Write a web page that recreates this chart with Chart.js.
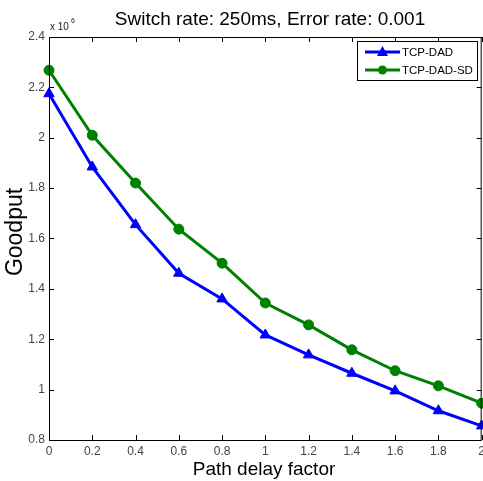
<!DOCTYPE html>
<html>
<head>
<meta charset="utf-8">
<script src="https://cdn.jsdelivr.net/npm/chart.js@4.4.1/dist/chart.umd.min.js"></script>
<style>
    html, body { margin: 0; padding: 0; background: #fff; overflow: hidden; }
    #wrap { width: 483px; height: 481px; overflow: hidden; }
</style>
</head>
<body>
<div id="wrap"><canvas id="goodputChart" width="489" height="481"></canvas></div>
<script>
// Datos (Goodput en unidades de 10^6)
const delayFactors = [0, 0.2, 0.4, 0.6, 0.8, 1.0, 1.2, 1.4, 1.6, 1.8, 2.0];
const tcpDad   = [2.175, 1.884, 1.655, 1.462, 1.360, 1.217, 1.138, 1.065, 0.995, 0.916, 0.856];
const tcpDadSd = [2.268, 2.010, 1.820, 1.637, 1.502, 1.344, 1.257, 1.158, 1.075, 1.015, 0.946];
const xTicks = [0, 0.2, 0.4, 0.6, 0.8, 1, 1.2, 1.4, 1.6, 1.8, 2];
const yTicks = [0.8, 1, 1.2, 1.4, 1.6, 1.8, 2, 2.2, 2.4];

const FONT = 'Arial, "Liberation Sans", sans-serif';
const BLUE = '#0000ff';
const GREEN = '#008000';

function fmt(v) {
    return String(Number(v.toFixed(1)));
}

// Marcas, caja, textos y leyenda estilo MATLAB
const matlabStyle = {
    id: 'matlabStyle',
    afterDraw(chart) {
        const ctx = chart.ctx;
        const a = chart.chartArea;
        const xs = chart.scales.x;
        const ys = chart.scales.y;
        const tl = 5;

        ctx.save();
        ctx.strokeStyle = '#000';
        ctx.lineWidth = 1;
        ctx.strokeRect(a.left + 0.5, a.top + 0.5, a.right - a.left - 1, a.bottom - a.top);

        ctx.beginPath();
        xTicks.forEach(v => {
            const px = Math.round(xs.getPixelForValue(v)) + 0.5;
            ctx.moveTo(px, a.bottom); ctx.lineTo(px, a.bottom - tl);
            ctx.moveTo(px, a.top); ctx.lineTo(px, a.top + tl);
        });
        yTicks.forEach(v => {
            const py = Math.round(ys.getPixelForValue(v)) + 0.5;
            ctx.moveTo(a.left, py); ctx.lineTo(a.left + tl, py);
            ctx.moveTo(a.right, py); ctx.lineTo(a.right - tl, py);
        });
        ctx.stroke();

        // Titulo
        ctx.fillStyle = '#000';
        ctx.textAlign = 'center';
        ctx.textBaseline = 'alphabetic';
        ctx.font = '19px ' + FONT;
        ctx.fillText('Switch rate: 250ms, Error rate: 0.001', 270, 25);

        // Etiquetas de ejes
        ctx.fillText('Path delay factor', 264, 475);
        ctx.save();
        ctx.translate(22, 232);
        ctx.rotate(-Math.PI / 2);
        ctx.font = '23px ' + FONT;
        ctx.fillText('Goodput', 0, 0);
        ctx.restore();

        // Multiplicador x 10^6
        ctx.fillStyle = '#222';
        ctx.textAlign = 'left';
        ctx.font = '10px ' + FONT;
        ctx.fillText('x 10', 50, 30);
        ctx.font = '7px ' + FONT;
        ctx.fillText('6', 71, 23);

        // Leyenda
        const lx = 357, ly = 41, lw = 120, lh = 39;
        ctx.fillStyle = '#fff';
        ctx.fillRect(lx, ly, lw, lh);
        ctx.strokeStyle = '#000';
        ctx.lineWidth = 1;
        ctx.strokeRect(lx + 0.5, ly + 0.5, lw, lh);
        chart.data.datasets.forEach((ds, i) => {
            const y = ly + 11 + i * 18;
            ctx.strokeStyle = ds.borderColor;
            ctx.lineWidth = 3;
            ctx.beginPath();
            ctx.moveTo(lx + 8, y);
            ctx.lineTo(lx + 43, y);
            ctx.stroke();
            ctx.fillStyle = ds.borderColor;
            ctx.beginPath();
            if (ds.pointStyle === 'triangle') {
                ctx.moveTo(lx + 25.5, y - 6);
                ctx.lineTo(lx + 31, y + 4);
                ctx.lineTo(lx + 20, y + 4);
                ctx.closePath();
            } else {
                ctx.arc(lx + 25.5, y, 4.5, 0, Math.PI * 2);
            }
            ctx.fill();
            ctx.fillStyle = '#000';
            ctx.font = '11.5px ' + FONT;
            ctx.textBaseline = 'middle';
            ctx.fillText(ds.label, lx + 45, y + 1);
        });
        ctx.restore();
    }
};

new Chart(document.getElementById('goodputChart').getContext('2d'), {
    type: 'line',
    data: {
        datasets: [
            {
                label: 'TCP-DAD',
                data: delayFactors.map((x, i) => ({ x: x, y: tcpDad[i] })),
                borderColor: BLUE,
                backgroundColor: BLUE,
                borderWidth: 3,
                pointStyle: 'triangle',
                pointRadius: 6,
                pointBorderWidth: 1,
                tension: 0,
                clip: false
            },
            {
                label: 'TCP-DAD-SD',
                data: delayFactors.map((x, i) => ({ x: x, y: tcpDadSd[i] })),
                borderColor: GREEN,
                backgroundColor: GREEN,
                borderWidth: 3,
                pointStyle: 'circle',
                pointRadius: 5,
                pointBorderWidth: 1,
                tension: 0,
                clip: false
            }
        ]
    },
    options: {
        responsive: false,
        animation: false,
        layout: { padding: { top: 37, right: 0, left: 0, bottom: 0 } },
        plugins: {
            legend: { display: false },
            title: { display: false },
            tooltip: { enabled: false }
        },
        scales: {
            x: {
                type: 'linear',
                min: 0,
                max: 2,
                afterBuildTicks: s => { s.ticks = xTicks.map(v => ({ value: v })); },
                afterFit: s => { s.height = 41; },
                grid: { display: false, drawTicks: false },
                border: { display: false },
                ticks: {
                    padding: 4,
                    color: '#444',
                    font: { family: FONT, size: 12 },
                    maxRotation: 0,
                    autoSkip: false,
                    callback: v => fmt(v)
                }
            },
            y: {
                type: 'linear',
                min: 0.8,
                max: 2.4,
                afterBuildTicks: s => { s.ticks = yTicks.map(v => ({ value: v })); },
                afterFit: s => { s.width = 49; },
                grid: { display: false, drawTicks: false },
                border: { display: false },
                ticks: {
                    padding: 4,
                    color: '#444',
                    font: { family: FONT, size: 12 },
                    autoSkip: false,
                    callback: v => fmt(v)
                }
            }
        }
    },
    plugins: [matlabStyle]
});
</script>
</body>
</html>
